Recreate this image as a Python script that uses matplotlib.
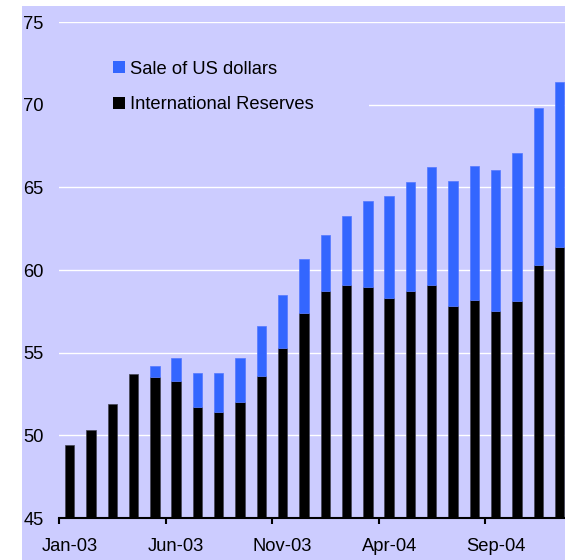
import numpy as np
import matplotlib.pyplot as plt
from matplotlib.patches import Patch, Rectangle

plt.rcParams['font.family'] = ['Liberation Sans', 'DejaVu Sans']

months = ["Jan-03", "Feb-03", "Mar-03", "Apr-03", "May-03", "Jun-03",
          "Jul-03", "Aug-03", "Sep-03", "Oct-03", "Nov-03", "Dec-03",
          "Jan-04", "Feb-04", "Mar-04", "Apr-04", "May-04", "Jun-04",
          "Jul-04", "Aug-04", "Sep-04", "Oct-04", "Nov-04", "Dec-04"]

# US$ bn, reserves held plus cumulative dollar sales stacked on top
reserves = [49.4, 50.3, 51.9, 53.7, 53.5, 53.3, 51.7, 51.4, 52.0, 53.6, 55.3, 57.4,
            58.7, 59.1, 59.0, 58.3, 58.7, 59.1, 57.8, 58.2, 57.5, 58.1, 60.3, 61.4]
sales = [0.0, 0.0, 0.0, 0.0, 0.7, 1.35, 2.05, 2.4, 2.7, 3.0, 3.2, 3.25,
         3.4, 4.15, 5.2, 6.15, 6.6, 7.1, 7.6, 8.1, 8.55, 9.0, 9.5, 10.0]

BG = '#ccccff'
BLUE = '#3366ff'
BASE = 45

fig = plt.figure(figsize=(5.65, 5.60), dpi=100, facecolor='white')
fig.patches.append(Rectangle((22 / 565, 0), 1, 554 / 560, transform=fig.transFigure,
                             facecolor=BG, edgecolor='none', zorder=-10))
ax = fig.add_axes([59 / 565, 42 / 560, 506 / 565, 496 / 560])
ax.set_facecolor(BG)

x = np.arange(len(months))
res = np.array(reserves)
sal = np.array(sales)
ax.bar(x, res - BASE, bottom=BASE, width=0.44, color='black',
       edgecolor='#444455', linewidth=0.5, zorder=3)
sold = sal > 0
ax.bar(x[sold], sal[sold], bottom=res[sold], width=0.44, color=BLUE,
       edgecolor='#5577ff', linewidth=0.5, zorder=3)

ax.set_ylim(45, 75)
ax.set_xlim(-0.5, -0.5 + 506 / 21.3)
ax.set_yticks(np.arange(45, 76, 5))
for v in range(50, 76, 5):
    ax.axhline(v, color='white', linewidth=1, zorder=1)

# categories are framed by ticks; labels sit under the bar centres
ax.set_xticks(x[::5] - 0.5)
ax.set_xticklabels([])
ax.set_xticks(x[::5], minor=True)
ax.set_xticklabels(months[::5], minor=True)
ax.tick_params(axis='x', which='major', direction='out', length=4.5, width=1.5, color='black')
ax.tick_params(axis='x', which='minor', length=0, pad=14.5, labelsize=13.2)
ax.tick_params(axis='y', length=0, pad=11, labelsize=13.2)

for s in ['top', 'right', 'left']:
    ax.spines[s].set_visible(False)
ax.spines['bottom'].set_linewidth(1.5)
ax.spines['bottom'].set_zorder(4)

# plain backing behind the key
ax.add_patch(Rectangle((0, 0.78), 310 / 506, 0.13, transform=ax.transAxes,
                       facecolor=BG, edgecolor='none', zorder=2))
handles = [Patch(facecolor=BLUE, edgecolor='none', label='Sale of US dollars'),
           Patch(facecolor='black', edgecolor='none', label='International Reserves')]
ax.legend(handles=handles, loc='upper left', bbox_to_anchor=(54 / 506, 0.922),
          frameon=False, fontsize=13.2, handlelength=0.65, handleheight=0.65,
          handletextpad=0.25, labelspacing=1.02, borderpad=0, borderaxespad=0)

fig.savefig('out.png', dpi=100, facecolor=fig.get_facecolor())
